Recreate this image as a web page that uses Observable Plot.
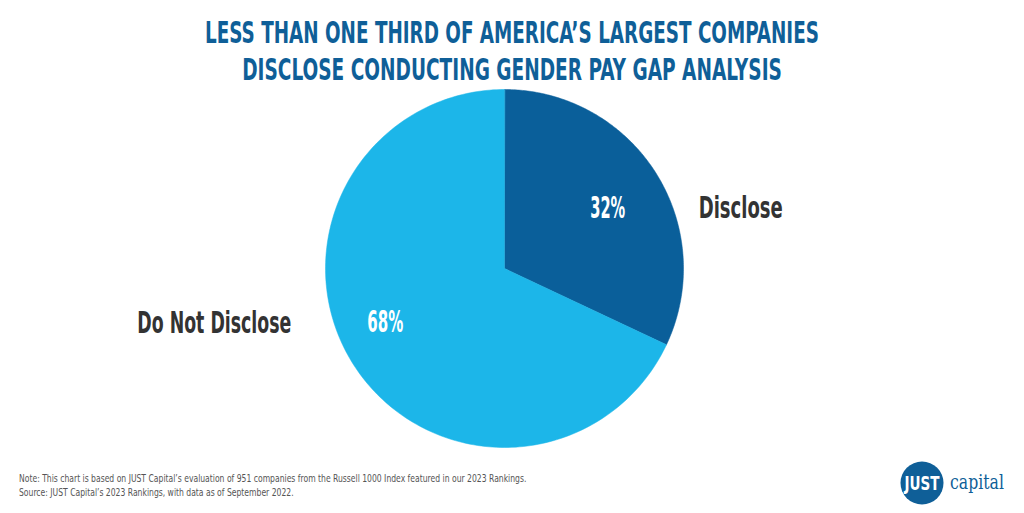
<!DOCTYPE html>
<html><head><meta charset="utf-8">
<script src="https://cdn.jsdelivr.net/npm/d3@7"></script>
<script src="https://cdn.jsdelivr.net/npm/@observablehq/plot@0.6"></script>
<style>
html,body{margin:0;padding:0;background:#fff;}
#wrap{position:relative;width:1024px;height:513px;overflow:hidden;font-family:"DejaVu Sans Condensed","DejaVu Sans",sans-serif;}
#chart{position:absolute;left:0;top:0;}
#overlay{position:absolute;left:0;top:0;}
</style></head>
<body><div id="wrap">
<div id="chart"></div>
<svg id="overlay" width="1024" height="513" style="font-family:'DejaVu Sans Condensed','DejaVu Sans',sans-serif">
  <text data-x="512" data-y="43" data-w="614" text-anchor="middle" fill="#0f5f98" font-weight="bold" font-size="31">LESS THAN ONE THIRD OF AMERICA’S LARGEST COMPANIES</text>
  <text data-x="512" data-y="80" data-w="540" text-anchor="middle" fill="#0f5f98" font-weight="bold" font-size="31">DISCLOSE CONDUCTING GENDER PAY GAP ANALYSIS</text>
  <text data-x="19" data-y="482" data-w="508" fill="#555" font-size="11">Note: This chart is based on JUST Capital’s evaluation of 951 companies from the Russell 1000 Index featured in our 2023 Rankings.</text>
  <text data-x="19" data-y="496" data-w="275" fill="#555" font-size="11">Source: JUST Capital’s 2023 Rankings, with data as of September 2022.</text>
  <circle cx="922" cy="483" r="21.5" fill="#0f5f98"/>
  <text data-x="922" data-y="490" data-w="35" text-anchor="middle" fill="#fff" font-weight="bold" font-size="19">JUST</text>
  <text data-x="950" data-y="489" data-w="54" fill="#0f5f98" font-size="20" font-family="DejaVu Serif, serif">capital</text>
</svg>
</div>
<script>
const categories = ["Disclose", "Do Not Disclose"];
const values = [32, 68];
const colors = ["#0a5f9a", "#1cb6e9"];

const W = 1024, H = 513, cx = 504, cy = 268, R = 179;
const pie = d3.pie().sort(null).value(d => d.value);
const arcs = pie(categories.map((c, i) => ({category: c, value: values[i]})));

const pts = [];
arcs.forEach(a => {
  const n = 200;
  pts.push({cat: a.data.category, x: 0, y: 0});
  for (let k = 0; k <= n; k++) {
    const t = a.startAngle + (a.endAngle - a.startAngle) * k / n;
    pts.push({cat: a.data.category, x: Math.sin(t), y: Math.cos(t)});
  }
});
const labels = arcs.map(a => {
  const m = (a.startAngle + a.endAngle) / 2;
  return {cat: a.data.category, pct: a.data.value + "%", x: 0.65 * Math.sin(m), y: 0.65 * Math.cos(m)};
});
const font = "DejaVu Sans Condensed, DejaVu Sans, sans-serif";
const first = labels.filter(d => d.cat === "Disclose");
const second = labels.filter(d => d.cat !== "Disclose");

const plot = Plot.plot({
  width: W, height: H,
  margin: 0,
  x: {domain: [-cx / R, (W - cx) / R], axis: null},
  y: {domain: [-(H - cy) / R, cy / R], axis: null},
  color: {domain: categories, range: colors},
  style: {background: "transparent"},
  marks: [
    Plot.line(pts, {x: "x", y: "y", z: "cat", fill: "cat", stroke: "cat", strokeWidth: 0.5, curve: "linear-closed"}),
    Plot.text(first, {x: "x", y: "y", text: "pct", fill: "white", fontSize: 30, fontWeight: "bold", fontFamily: font, dx: 5, dy: 2}),
    Plot.text(second, {x: "x", y: "y", text: "pct", fill: "white", fontSize: 30, fontWeight: "bold", fontFamily: font, dx: -21, dy: -8}),
    Plot.text(first, {x: "x", y: "y", text: "cat", fill: "#333", fontSize: 31, fontWeight: "bold", textAnchor: "start", fontFamily: font, dx: 96, dy: 2}),
    Plot.text(second, {x: "x", y: "y", text: "cat", fill: "#333", fontSize: 31, fontWeight: "bold", textAnchor: "end", fontFamily: font, dx: -115, dy: -8})
  ]
});
document.getElementById("chart").appendChild(plot);
const widths = {"32%": 35, "68%": 36, "Disclose": 84, "Do Not Disclose": 154};
plot.querySelectorAll("text").forEach(t => {
  const w = widths[t.textContent];
  if (w) {
    const s = w / t.getComputedTextLength();
    const tr = t.getAttribute("transform") || "";
    t.setAttribute("transform", `${tr} scale(${s},1)`);
  }
});

document.querySelectorAll("#overlay text").forEach(t => {
  const nat = t.getComputedTextLength();
  const s = (+t.dataset.w) / nat;
  t.setAttribute("transform", `translate(${t.dataset.x},${t.dataset.y}) scale(${s},1)`);
});
</script>
</body></html>
